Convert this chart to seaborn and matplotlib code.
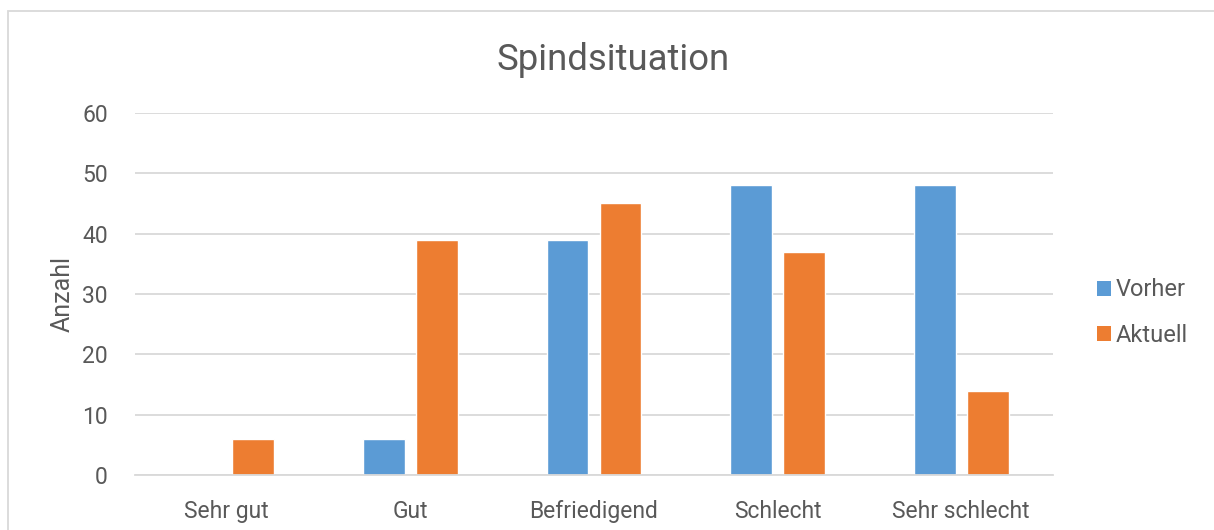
import matplotlib
matplotlib.use("Agg")
import matplotlib.pyplot as plt
import seaborn as sns
import pandas as pd
from matplotlib.patches import Rectangle, Patch

categories = ["Sehr gut", "Gut", "Befriedigend", "Schlecht", "Sehr schlecht"]
vorher = [0, 6, 39, 48, 48]
aktuell = [6, 39, 45, 37, 14]
series_names = ["Vorher", "Aktuell"]
colors = ["#5B9BD5", "#ED7D31"]

df = pd.DataFrame({
    "Kategorie": categories * 2,
    "Serie": [series_names[0]] * len(categories) + [series_names[1]] * len(categories),
    "Anzahl": vorher + aktuell,
})

sns.set_theme(style="white")
plt.rcParams["font.family"] = ["Roboto", "DejaVu Sans"]
text_color = "#595959"

fig = plt.figure(figsize=(12.14, 5.30), dpi=100)
ax = fig.add_axes([0.1112, 0.1038, 0.7562, 0.683])

sns.barplot(data=df, x="Kategorie", y="Anzahl", hue="Serie", order=categories,
            hue_order=series_names, palette=colors, width=0.577, gap=0.21,
            saturation=1, ax=ax, legend=False)

ax.set_ylim(0, 60)
ax.set_xlim(-0.5, 4.5)
ax.set_yticks(range(0, 61, 10))
ax.yaxis.grid(True, color="#D9D9D9", linewidth=1.3)
ax.set_axisbelow(True)
for s in ["top", "right", "left"]:
    ax.spines[s].set_visible(False)
ax.spines["bottom"].set_color("#D9D9D9")
ax.spines["bottom"].set_linewidth(1.3)
ax.tick_params(axis="both", length=0, labelsize=16.5, labelcolor=text_color)
ax.tick_params(axis="y", pad=19.5)
ax.tick_params(axis="x", pad=18)
ax.set_xlabel("")
ax.set_ylabel("Anzahl", fontsize=18, color=text_color)
ax.yaxis.set_label_coords(-0.066, 0.5)

fig.text(0.505, 0.887, "Spindsituation", ha="center", va="center",
         fontsize=26.3, color=text_color)

handles = [Patch(facecolor=c, edgecolor="none") for c in colors]
fig.legend(handles, series_names, loc="center left", bbox_to_anchor=(0.886, 0.41),
           frameon=False, fontsize=17, labelcolor=text_color, handlelength=0.6,
           handleheight=0.6, handletextpad=0.2, labelspacing=0.95)

fig.patches.append(Rectangle((8 / 1214, -0.05), 1.1, 1 - 11 / 530 + 0.05,
                             transform=fig.transFigure, fill=False,
                             edgecolor="#D9D9D9", linewidth=1.3, figure=fig))

fig.savefig("out.png", dpi=100, facecolor="white")
